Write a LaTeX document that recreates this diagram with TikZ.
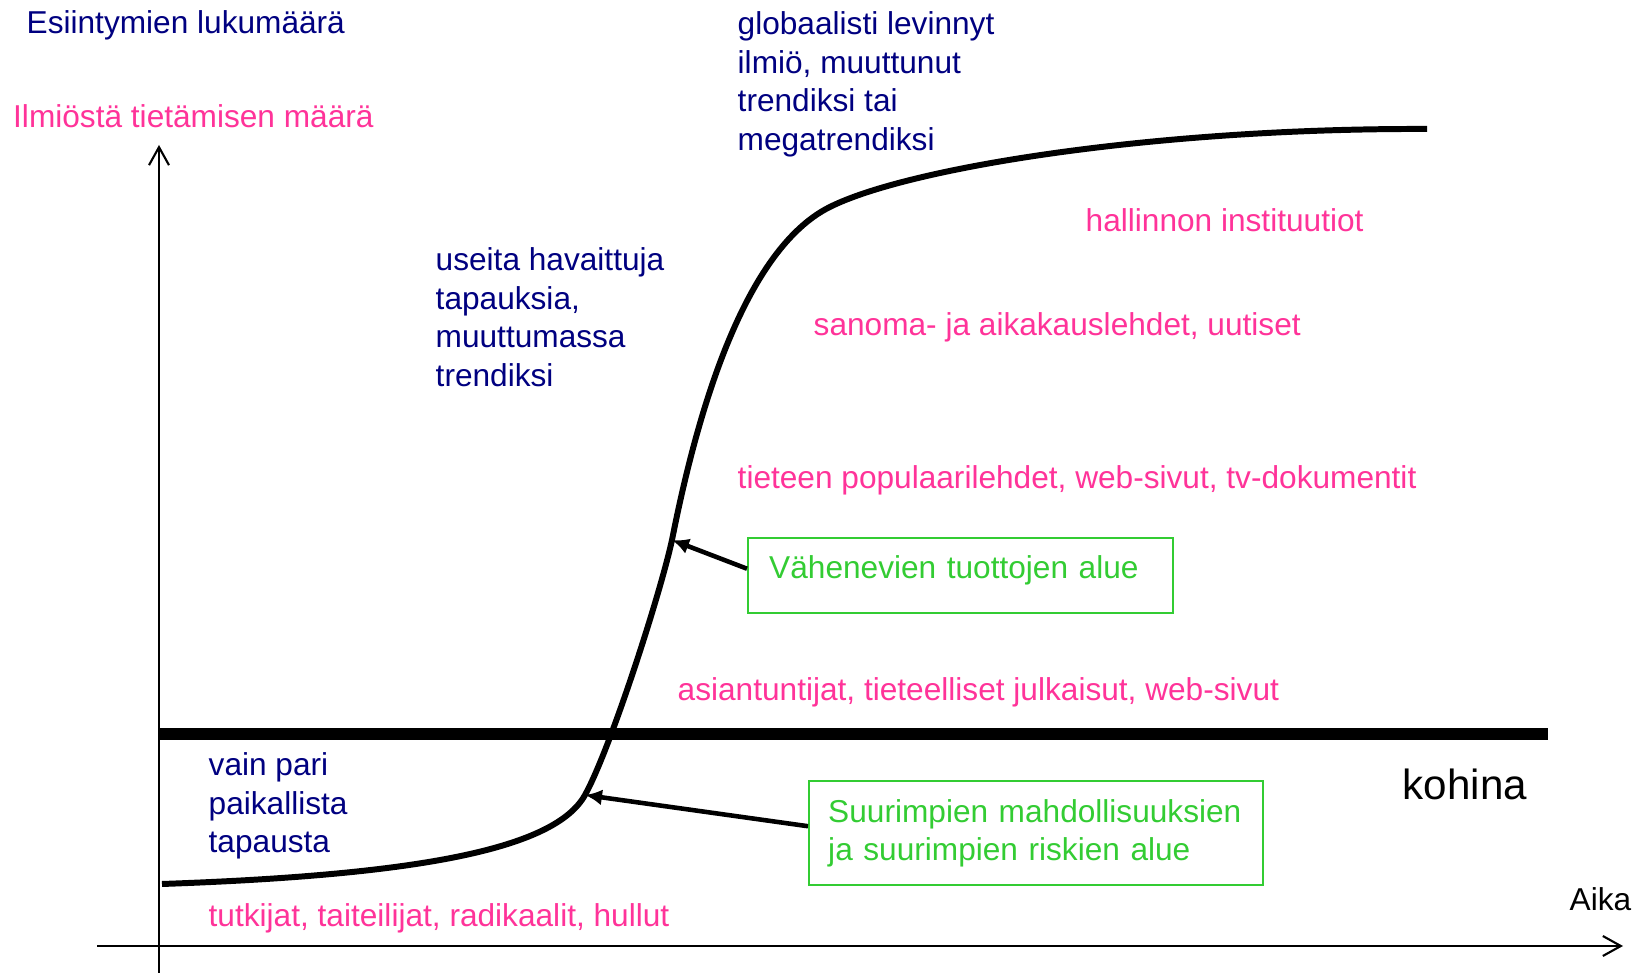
\documentclass[tikz,border=0pt]{standalone}
\usepackage{fontspec}
\setmainfont{Liberation Sans}
\usetikzlibrary{arrows.meta}
\definecolor{tummasin}{RGB}{0,0,128}
\definecolor{pinkki}{RGB}{255,51,153}
\definecolor{vihrea}{RGB}{51,204,51}
\tikzset{
  teksti/.style={inner sep=0pt,align=left,font=\fontsize{9}{10.95}\selectfont},
  sin/.style={teksti,text=tummasin},
  pun/.style={teksti,text=pinkki},
  laatikko/.style={draw=vihrea,line width=0.7pt,text=vihrea,font=\fontsize{9}{10.95}\selectfont,
    inner ysep=0pt,align=left,anchor=north west},
  akseli/.style={line width=0.6pt,-{Straight Barb[length=1.8mm,width=2mm]}},
  nuoli/.style={line width=1.3pt,-{Latex[length=1.7mm,width=1.6mm]}}
}
\begin{document}
\begin{tikzpicture}
				\useasboundingbox (0,0) rectangle (16.39,9.73);
				\coordinate (O) at (1.59,0);
				\coordinate (Y) at (1.59,8.28);
				\coordinate (X0) at (0.97,0.27);
				\coordinate (X) at (16.23,0.27);
				\draw[akseli] (O) -- (Y);
				\draw[akseli] (X0) -- (X);
				\draw[line width=3.4pt] (1.59,2.39) -- (15.48,2.39);
				\coordinate (alku) at (1.62,0.89);
				\coordinate (k2) at (5.85,1.78);
				\coordinate (k1) at (6.72,4.33);
				\coordinate (polvi) at (8.26,7.64);
				\coordinate (loppu) at (14.27,8.44);
				\draw[line width=1.7pt] (alku) .. controls (4.2,0.98) and (5.55,1.24) .. (k2)
				  .. controls (6.10,2.23) and (6.60,3.78) .. (k1)
				  .. controls (7.05,6.0) and (7.55,7.25) .. (polvi)
				  .. controls (9.0,8.04) and (11.5,8.45) .. (loppu);
				\node[sin,anchor=base west] (esiint) at (0.26,9.39) {Esiintymien lukumäärä};
				\node[pun,anchor=base west] (ilmio) at (0.125,8.45) {Ilmiöstä tietämisen määrä};
				\node[sin,anchor=north west] (glob) at (7.37,9.62) {globaalisti levinnyt\\ilmiö, muuttunut\\trendiksi tai\\megatrendiksi};
				\node[pun,anchor=base west] (hallinto) at (10.85,7.41) {hallinnon instituutiot};
				\node[sin,anchor=north west] (useita) at (4.35,7.26) {useita havaittuja\\tapauksia,\\muuttumassa\\trendiksi};
				\node[pun,anchor=base west] (sanoma) at (8.13,6.37) {sanoma- ja aikakauslehdet, uutiset};
				\node[pun,anchor=base west] (tieteen) at (7.37,4.84) {tieteen populaarilehdet, web-sivut, tv-dokumentit};
				\node[laatikko,inner xsep=0.21cm,text width=3.83cm,text depth=0.18cm,minimum height=0.75cm] (vahen) at (7.47,4.36) {Vähenevien tuottojen alue};
				\node[pun,anchor=base west] (asiant) at (6.77,2.72) {asiantuntijat, tieteelliset julkaisut, web-sivut};
				\node[sin,anchor=north west] (vain) at (2.08,2.21) {vain pari\\paikallista\\tapausta};
				\node[anchor=base west,inner sep=0pt,font=\fontsize{12}{14}\selectfont] (kohina) at (14.02,1.73) {kohina};
				\node[laatikko,inner xsep=0.19cm,text width=4.16cm,minimum height=1.04cm] (suur) at (8.08,1.93) {Suurimpien mahdollisuuksien\\ja suurimpien riskien alue};
				\node[pun,anchor=base west] (tutkijat) at (2.08,0.46) {tutkijat, taiteilijat, radikaalit, hullut};
				\node[teksti,anchor=base west] (aika) at (15.69,0.62) {Aika};
				\draw[nuoli] ([yshift=0.07cm]vahen.west) -- (k1);
				\draw[nuoli] ([yshift=0.07cm]suur.west) -- (k2);
				\end{tikzpicture}
\end{document}
